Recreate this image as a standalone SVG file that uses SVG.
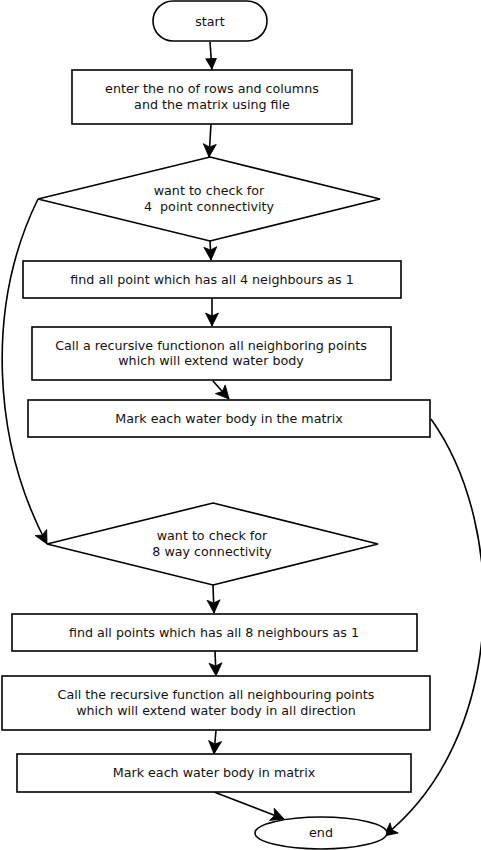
<svg xmlns="http://www.w3.org/2000/svg" width="481" height="850" viewBox="0 0 481 850">
<style>
.s{fill:#fff;stroke:#000;stroke-width:1.6}
.t{font-family:"DejaVu Sans",sans-serif;font-size:12.7px;fill:#111;text-anchor:middle;white-space:pre}
.c{fill:none;stroke:#000;stroke-width:1.6}
</style>
<defs>
<marker id="tri" markerUnits="userSpaceOnUse" markerWidth="14" markerHeight="14" viewBox="-12 -6 14 12" refX="0" refY="0" orient="auto">
<path d="M0,0 L-12,-6 L-12,6 Z" fill="#000"/>
</marker>
<marker id="st" markerUnits="userSpaceOnUse" markerWidth="18" markerHeight="16" viewBox="-15 -8 17 16" refX="0" refY="0" orient="auto">
<path d="M0,0 L-13,-6.5 L-10,0 L-13,6.5 Z" fill="#000" stroke="#000" stroke-width="0.8" stroke-linejoin="round"/>
</marker>
</defs>
<g id="connectors">
<path class="c" d="M210,42 L212,70" marker-end="url(#tri)"/>
<path class="c" d="M211,124 L209,157" marker-end="url(#st)"/>
<path class="c" d="M210,241 L211,260" marker-end="url(#st)"/>
<path class="c" d="M212,298 L212,326" marker-end="url(#st)"/>
<path class="c" d="M213,381 L229,399" marker-end="url(#st)"/>
<path class="c" d="M38,199 C-14,305 -8,440 47,544" marker-end="url(#st)"/>
<path class="c" d="M431,419 C510,530 505,740 384,836" marker-end="url(#st)"/>
<path class="c" d="M213,585 L214,613" marker-end="url(#st)"/>
<path class="c" d="M215,651 L216,676" marker-end="url(#st)"/>
<path class="c" d="M216,730 L214,754" marker-end="url(#st)"/>
<path class="c" d="M214,792 L284,819" marker-end="url(#st)"/>
</g>
<g id="start">
<rect class="s" x="153" y="1" width="114" height="40" rx="20"/>
<text class="t" x="210" y="26">start</text>
</g>
<g id="input">
<rect class="s" x="72" y="70" width="280" height="54"/>
<text class="t" x="212" y="93">enter the no of rows and columns</text>
<text class="t" x="212" y="109">and the matrix using file</text>
</g>
<g id="decision4">
<polygon class="s" points="210,157 380,199 210,241 38,199"/>
<text class="t" x="209" y="195">want to check for</text>
<text class="t" x="209" y="211" xml:space="preserve">4  point connectivity</text>
</g>
<g id="find4">
<rect class="s" x="23" y="261" width="378" height="37"/>
<text class="t" x="212" y="284">find all point which has all 4 neighbours as 1</text>
</g>
<g id="recurse4">
<rect class="s" x="32" y="327" width="359" height="53"/>
<text class="t" x="211" y="350">Call a recursive functionon all neighboring points</text>
<text class="t" x="211" y="365">which will extend water body</text>
</g>
<g id="mark4">
<rect class="s" x="28" y="400" width="402" height="37"/>
<text class="t" x="229" y="423">Mark each water body in the matrix</text>
</g>
<g id="decision8">
<polygon class="s" points="213,503 378,544 213,585 47,544"/>
<text class="t" x="212" y="540">want to check for</text>
<text class="t" x="212" y="556">8 way connectivity</text>
</g>
<g id="find8">
<rect class="s" x="12" y="614" width="405" height="37"/>
<text class="t" x="214" y="637">find all points which has all 8 neighbours as 1</text>
</g>
<g id="recurse8">
<rect class="s" x="2" y="676" width="428" height="54"/>
<text class="t" x="216" y="699">Call the recursive function all neighbouring points</text>
<text class="t" x="216" y="715">which will extend water body in all direction</text>
</g>
<g id="mark8">
<rect class="s" x="17" y="754" width="394" height="38"/>
<text class="t" x="214" y="777">Mark each water body in matrix</text>
</g>
<g id="end">
<ellipse class="s" cx="321" cy="833" rx="66" ry="16"/>
<text class="t" x="321" y="837">end</text>
</g>
</svg>
